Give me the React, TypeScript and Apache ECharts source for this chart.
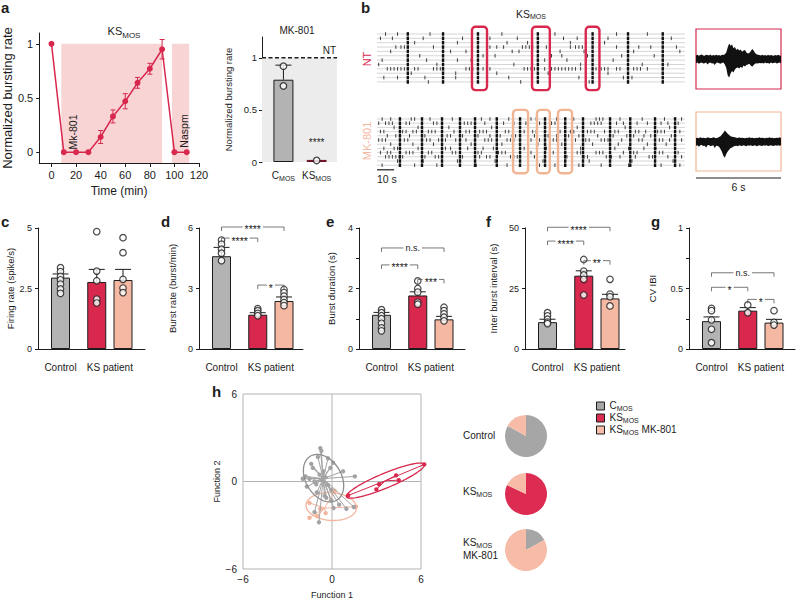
import React, { useEffect, useRef } from 'react';
import * as echarts from 'echarts';

const FONT = "'Liberation Sans', Arial, Helvetica, sans-serif";
const INK = '#1c1c1c';
const RED = '#d8284e';
const SALMON = '#f5b8a2';
const GREY = '#b3b3b3';
const PINK = '#f8d4d4';
const BOX_ORANGE = '#f2b594';

// ---------- a: time course (KS_MOS) ----------
const timeMin = [0, 10, 20, 30, 40, 50, 60, 70, 80, 90, 100, 110];
const normRate = [1, 0, 0, 0, 0.14, 0.33, 0.47, 0.64, 0.77, 0.95, 0, 0];
const normErr = [0, 0, 0, 0, 0.06, 0.06, 0.07, 0.05, 0.05, 0.09, 0, 0];
const drugWindows = [[8, 90], [98, 112]];
const timeTicks = [0, 20, 40, 60, 80, 100, 120];
const rateTicks = [0, 0.5, 1];

// ---------- a: MK-801 bars ----------
const mkMeans = [0.79, 0.02];
const mkErrs = [0.14, 0];
const mkDots = [[0.92, 0.73], [0.015]];
const mkSig = ['', '****'];
const mkSigY = [0, 0.19];

// ---------- b: rasters (s) ----------
const ntBursts = [18, 38.6, 59, 94, 126, 146.7, 167];
const ntSpikes = [
  [5, 12, 31, 73, 104, 140, 158],
  [2, 9, 27, 50, 66, 82, 109, 117, 135, 172],
  [22, 47, 76, 88, 113, 133],
  [11, 14, 16, 33, 66, 70, 74, 85, 87, 89, 91, 99, 113, 116, 118, 120, 140, 153, 160, 175],
  [8, 43, 52, 79, 83, 107, 121, 150, 177],
  [25, 62, 69, 102, 108, 123, 143, 162],
  [3, 29, 47, 55, 98, 111, 138],
  [1, 35, 64, 80, 119, 155, 170],
  [6, 8, 10, 12, 14, 16, 22, 24, 33, 35, 37, 52, 54, 56, 62, 64, 66, 86, 88, 90, 92, 98, 102, 104, 106, 108, 110, 112, 114, 116, 119, 128, 131, 133, 135, 140, 142, 150, 152, 154, 158],
  [20, 46, 70, 100, 135],
  [4, 12, 28, 46, 77, 118, 144, 149],
  [30, 84, 124],
];
const ntBoxes = [[55.5, 64.3], [90.6, 101], [122, 130]];
const mkBursts = [13.4, 26.3, 38, 48.5, 57.3, 70, 83.6, 98.2, 110, 120.4, 136.2, 148, 162.5, 174.2];
const mkSpikes = [
  [3, 8, 20, 22, 31, 44, 61, 66, 77, 90, 93, 105, 115, 128, 130, 132, 142, 155, 168, 178],
  [1, 5, 7, 9, 17, 19, 33, 35, 51, 53, 55, 63, 74, 80, 87, 95, 102, 104, 106, 114, 125, 127, 129, 131, 140, 144, 152, 158, 166, 170, 176],
  [10, 24, 42, 67, 88, 117, 145, 171],
  [2, 4, 15, 17, 21, 23, 30, 32, 34, 45, 52, 54, 60, 62, 64, 75, 77, 86, 91, 93, 101, 107, 113, 115, 123, 125, 127, 133, 139, 141, 151, 153, 157, 164, 166, 168, 177],
  [6, 11, 19, 28, 41, 43, 50, 59, 66, 72, 79, 81, 92, 100, 105, 112, 118, 129, 138, 146, 150, 156, 160, 172],
  [1, 3, 5, 16, 18, 29, 31, 36, 40, 46, 52, 63, 65, 67, 76, 78, 80, 88, 90, 95, 103, 105, 116, 122, 124, 131, 133, 135, 143, 153, 155, 165, 167, 171, 178],
  [8, 21, 33, 55, 73, 94, 108, 126, 141, 158, 169],
  [4, 10, 12, 24, 40, 43, 53, 62, 68, 86, 99, 106, 114, 119, 139, 147, 156, 163],
  [2, 6, 8, 17, 19, 21, 30, 32, 44, 46, 59, 61, 71, 73, 75, 88, 90, 101, 103, 117, 119, 128, 130, 132, 144, 150, 152, 165, 167, 176],
  [5, 7, 9, 11, 13, 15, 28, 34, 36, 50, 60, 64, 66, 78, 80, 82, 92, 111, 121, 123, 134, 137, 142, 151, 159, 161, 170, 178],
  [12, 27, 47, 69, 97, 124, 149, 173],
  [3, 22, 35, 58, 76, 95, 104, 118, 131, 147, 166, 177],
];
const mkBoxes = [[79.5, 88.3], [93.5, 101], [105.8, 114]];
const rasterScale = 10; // s
const traceScale = 6; // s

// ---------- b: example traces (envelope, 0-6 s) ----------
const ntUpper = [0.12, 0.14, 0.11, 0.13, 0.15, 0.12, 0.11, 0.14, 0.13, 0.12, 0.15, 0.11, 0.13, 0.12, 0.14, 0.12, 0.13, 0.11, 0.14, 0.13, 0.16,
  0.22, 0.38, 0.52, 0.44, 0.48, 0.36, 0.4, 0.3, 0.34, 0.28,
  0.32, 0.24, 0.28, 0.3, 0.22, 0.18, 0.2,
  0.26, 0.33, 0.28, 0.2, 0.16, 0.14, 0.13,
  0.12, 0.14, 0.12, 0.13, 0.11, 0.14, 0.12, 0.13, 0.12, 0.11, 0.13, 0.12, 0.14, 0.12, 0.11];
const ntLower = [0.14, 0.12, 0.16, 0.13, 0.12, 0.15, 0.14, 0.12, 0.18, 0.13, 0.12, 0.15, 0.14, 0.2, 0.13, 0.12, 0.14, 0.16, 0.13, 0.12, 0.18,
  0.3, 0.55, 0.62, 0.48, 0.4, 0.45, 0.35, 0.3, 0.28, 0.32,
  0.26, 0.3, 0.22, 0.25, 0.2, 0.18, 0.16,
  0.22, 0.26, 0.2, 0.16, 0.14, 0.15, 0.13,
  0.14, 0.13, 0.15, 0.12, 0.14, 0.13, 0.16, 0.12, 0.14, 0.13, 0.12, 0.15, 0.13, 0.12, 0.14];
const mkUpper = [0.12, 0.13, 0.11, 0.14, 0.12, 0.13, 0.12, 0.11, 0.14, 0.13, 0.12, 0.12, 0.14, 0.13, 0.11, 0.13, 0.15,
  0.18, 0.24, 0.3, 0.37, 0.32, 0.26, 0.22, 0.18, 0.16, 0.15,
  0.14, 0.13, 0.12, 0.14, 0.12, 0.13, 0.12, 0.11, 0.13, 0.12, 0.14, 0.12, 0.13, 0.12, 0.11, 0.13, 0.12, 0.14, 0.12, 0.13, 0.12, 0.11, 0.13, 0.12, 0.14, 0.12, 0.13, 0.11, 0.12, 0.13, 0.12, 0.14, 0.12];
const mkLower = [0.14, 0.13, 0.18, 0.13, 0.12, 0.15, 0.14, 0.2, 0.13, 0.12, 0.16, 0.14, 0.13, 0.22, 0.14, 0.15, 0.18,
  0.25, 0.35, 0.48, 0.55, 0.42, 0.34, 0.28, 0.22, 0.2, 0.17,
  0.15, 0.14, 0.16, 0.13, 0.14, 0.15, 0.13, 0.14, 0.16, 0.13, 0.14, 0.13, 0.15, 0.14, 0.13, 0.16, 0.14, 0.13, 0.14, 0.15, 0.13, 0.14, 0.13, 0.15, 0.14, 0.13, 0.14, 0.15, 0.13, 0.14, 0.13, 0.14, 0.13];

// ---------- c–g: Control, KS_MOS, KS_MOS MK-801 ----------
const fireMeans = [2.95, 2.77, 2.85];
const fireErrs = [0.15, 0.52, 0.44];
const fireDots = [[3.36, 3.2, 3.0, 2.86, 2.68, 2.48, 2.3], [4.85, 3.22, 2.82, 2.06, 1.9], [4.6, 3.98, 2.88, 2.52, 2.33]];
const fireSig: any[] = [];

const brMeans = [4.6, 1.7, 2.38];
const brErrs = [0.44, 0.1, 0.2];
const brDots = [[5.4, 5.2, 4.95, 4.75, 4.38], [2.0, 1.9, 1.77, 1.65], [2.95, 2.8, 2.62, 2.45, 2.3, 2.15]];
const brSig = [[0, 2, 6.05, '****'], [0, 1, 5.5, '****'], [1, 2, 3.17, '*']];

const durMeans = [1.13, 1.77, 0.98];
const durErrs = [0.08, 0.12, 0.1];
const durDots = [[1.3, 1.2, 1.1, 1.0, 0.85, 0.7, 0.6], [2.25, 2.0, 1.88, 1.55, 1.48], [1.38, 1.27, 1.16, 1.05, 0.93]];
const durSig = [[0, 2, 3.34, 'n.s.'], [0, 1, 2.78, '****'], [1, 2, 2.3, '***']];

const ibiMeans = [11.1, 30.3, 20.9];
const ibiErrs = [1.2, 2.0, 1.7];
const ibiDots = [[15, 13.7, 12.3, 11.1, 10.5], [37, 32.2, 30.6, 28.8, 22.3], [28.8, 22.7, 21.6, 17.8]];
const ibiSig = [[0, 2, 50.3, '****'], [0, 1, 44.6, '****'], [1, 2, 36.5, '**']];

const cvMeans = [0.23, 0.317, 0.218];
const cvErrs = [0.035, 0.025, 0.027];
const cvDots = [[0.336, 0.317, 0.24, 0.163, 0.052], [0.364, 0.3], [0.317, 0.22, 0.198]];
const cvSig = [[0, 2, 0.63, 'n.s.'], [0, 1, 0.51, '*'], [1, 2, 0.41, '*']];

// ---------- h: discriminant analysis ----------
const hCtrl = [[-0.79, 2.29], [-0.72, 2.1], [-0.95, 1.68], [-0.27, 1.59], [0.07, 1.29], [-0.11, 0.93], [0.75, 0.7], [1.54, 0.35],
  [-1.79, 0.35], [-1.97, 0.19], [-1.52, 0.19], [-1.18, 0.0], [-1.06, -0.19], [-1.7, -0.35], [-1.02, -0.75], [-0.5, -0.98],
  [-0.05, -1.29], [-0.38, -1.12], [0.48, -1.59], [0.97, -1.87], [1.47, -1.75], [-0.88, -2.8], [-1.18, -2.1], [0.11, -1.82],
  [-1.29, 0.93], [-1.4, 1.21], [-0.57, 0.7], [-0.84, 0.47], [-0.43, 0.28], [-0.72, 0.12], [-0.27, -0.23], [-0.05, -0.58]];
const hKS = [[6.22, 1.17], [4.32, 0.42], [4.5, 0.09], [3.17, -0.19], [2.99, -0.54], [1.09, -0.96]];
const hMK = [[-1.52, -1.47], [-1.52, -2.5], [-1.0, -2.38], [-0.43, -2.17], [0.18, -0.65], [1.61, -1.73], [-0.79, -1.87]];
const hCtrlCentroid = [-0.6, 0.2];
const hKSCentroid = [3.6, 0.05];
const hMKCentroid = [-0.5, -1.82];
// [cx, cy, semi-major, semi-minor, angle(deg)]
const hCtrlEllipse = [-0.57, 0.23, 1.75, 1.2, -60];
const hKSEllipse = [3.6, 0.06, 2.85, 0.5, 23];
const hMKEllipse = [-0.05, -1.72, 1.7, 0.95, -4];
const hTicks = [-6, 0, 6];

// classification pies: [C_MOS, KS_MOS, KS_MOS MK-801]
const pieNames = ['CMOS', 'KSMOS', 'KSMOS MK-801'];
const pieCtrl = [83, 0, 17];
const pieKS = [0, 82, 18];
const pieMK = [17, 0, 83];

// ---------- layout helpers ----------
const mkX = [1, 2.55];
const barX = [0.9, 2.35, 3.4];
const barColors = [GREY, RED, SALMON];
const pieColors = ['#a6a6a6', '#dc2c52', '#f6bca7'];

const labelRich = (size: number) => ({
  b: { fontSize: size, lineHeight: size + 1, verticalAlign: 'top', color: INK, fontFamily: FONT },
  s: { fontSize: Math.round(size * 0.7), verticalAlign: 'bottom', padding: [Math.round(size * 0.5), 0, 0, 0], color: INK, fontFamily: FONT },
});
const gRich = (size: number, color = INK) => ({
  b: { fontSize: size, lineHeight: size + 1, verticalAlign: 'top', fill: color, fontFamily: FONT },
  s: { fontSize: Math.round(size * 0.7), verticalAlign: 'bottom', padding: [Math.round(size * 0.5), 0, 0, 0], fill: color, fontFamily: FONT },
});

function gtext(text: string, x: number, y: number, o: any = {}) {
  return {
    type: 'text', x, y, z: 100, rotation: o.rotation || 0, silent: true,
    style: {
      text, fill: o.color || INK, fontSize: o.size || 10, fontFamily: FONT, fontWeight: o.weight || 'normal',
      align: o.align || 'center', verticalAlign: o.va || 'middle', rich: o.rich, lineHeight: o.lineHeight,
    },
  };
}

function errRenderer(color: string, both: boolean, capHalf: number) {
  return (params: any, api: any) => {
    const x = api.value(0), m = api.value(1), e = api.value(2);
    const pT = api.coord([x, m + e]);
    const pB = api.coord([x, both ? m - e : m]);
    const st = { stroke: color, lineWidth: 1 };
    const ch: any[] = [
      { type: 'line', shape: { x1: pT[0], y1: pT[1], x2: pB[0], y2: pB[1] }, style: st },
      { type: 'line', shape: { x1: pT[0] - capHalf, y1: pT[1], x2: pT[0] + capHalf, y2: pT[1] }, style: st },
    ];
    if (both) ch.push({ type: 'line', shape: { x1: pB[0] - capHalf, y1: pB[1], x2: pB[0] + capHalf, y2: pB[1] }, style: st });
    return { type: 'group', children: ch };
  };
}

function buildOption() {
  const grid: any[] = [], xAxis: any[] = [], yAxis: any[] = [], series: any[] = [];
  const addGrid = (g: any, x: any, y: any) => {
    grid.push({ containLabel: false, ...g });
    const i = grid.length - 1;
    xAxis.push({ ...x, gridIndex: i });
    yAxis.push({ ...y, gridIndex: i });
    return i;
  };
  const axLine = { show: true, onZero: false, lineStyle: { color: INK, width: 1 } };
  const hidden = (min: number, max: number, inverse = false) => ({ type: 'value', min, max, inverse, show: false, splitLine: { show: false } });
  const on = (i: number) => ({ xAxisIndex: i, yAxisIndex: i, itemStyle: { color: INK } });

  // ===== a: time course =====
  const gA = addGrid({ left: 38, top: 33, width: 161, height: 130 },
    {
      type: 'value', min: -10, max: 120, axisLine: axLine,
      axisTick: { show: true, length: 4, customValues: timeTicks, lineStyle: { color: INK } },
      axisLabel: { customValues: timeTicks, fontSize: 11, color: INK, margin: 6, fontFamily: FONT },
      splitLine: { show: false }, name: 'Time (min)', nameLocation: 'middle', nameGap: 22,
      nameTextStyle: { fontSize: 12, color: INK, fontFamily: FONT },
    },
    {
      type: 'value', min: -0.1, max: 1.1, axisLine: axLine,
      axisTick: { show: true, length: 3, customValues: rateTicks, lineStyle: { color: INK } },
      axisLabel: { customValues: rateTicks, fontSize: 11, color: INK, margin: 6, fontFamily: FONT },
      splitLine: { show: false }, name: 'Normalized bursting rate', nameLocation: 'middle', nameGap: 24,
      nameTextStyle: { fontSize: 13, color: INK, fontFamily: FONT },
    });
  series.push({
    type: 'custom', ...on(gA), z: 1, silent: true, data: drugWindows,
    renderItem: (p: any, api: any) => {
      const a = api.coord([api.value(0), 1]);
      const b = api.coord([api.value(1), -0.1]);
      return { type: 'rect', shape: { x: a[0], y: a[1], width: b[0] - a[0], height: b[1] - a[1] }, style: { fill: PINK } };
    },
  });
  series.push({
    type: 'line', xAxisIndex: gA, yAxisIndex: gA, z: 3, data: timeMin.map((t, i) => [t, normRate[i]]),
    symbol: 'circle', symbolSize: 6, itemStyle: { color: RED }, lineStyle: { color: RED, width: 1.5 }, silent: true,
  });
  series.push({
    type: 'custom', ...on(gA), z: 4, silent: true,
    data: timeMin.map((t, i) => [t, normRate[i], normErr[i]]).filter((d) => d[2] > 0),
    renderItem: errRenderer(RED, true, 2.5),
  });

  // ===== a: MK-801 bars =====
  const gM = addGrid({ left: 262, top: 37, width: 75, height: 125 },
    {
      type: 'value', min: 0, max: 3.5, axisLine: { show: false }, axisTick: { show: false }, splitLine: { show: false },
      axisLabel: {
        customValues: mkX, margin: 8, rich: labelRich(10),
        formatter: (v: number) => (v < 2 ? '{b|C}{s|MOS}' : '{b|KS}{s|MOS}'),
      },
    },
    {
      type: 'value', min: 0, max: 1.2, axisLine: axLine,
      axisTick: { show: true, length: 3, customValues: rateTicks, lineStyle: { color: INK } },
      axisLabel: { customValues: rateTicks, fontSize: 9.5, color: INK, margin: 5, fontFamily: FONT },
      splitLine: { show: false }, name: 'Normalized bursting rate', nameLocation: 'middle', nameGap: 29,
      nameTextStyle: { fontSize: 9.5, color: INK, fontFamily: FONT },
    });
  series.push({
    type: 'custom', ...on(gM), z: 1, silent: true, data: [[0, 3.5, 1]],
    renderItem: (p: any, api: any) => {
      const a = api.coord([api.value(0), api.value(2)]);
      const b = api.coord([api.value(1), 0]);
      return {
        type: 'group', children: [
          { type: 'rect', shape: { x: a[0], y: a[1], width: b[0] - a[0], height: b[1] - a[1] }, style: { fill: '#ececec' } },
          { type: 'line', shape: { x1: a[0], y1: a[1], x2: b[0], y2: a[1] }, style: { stroke: INK, lineWidth: 1.5, lineDash: [4, 2.5] } },
          { type: 'text', x: b[0] - 1, y: a[1] - 2, style: { text: 'NT', fill: INK, fontSize: 10, fontFamily: FONT, align: 'right', verticalAlign: 'bottom' } },
        ],
      };
    },
  });
  series.push({
    type: 'bar', xAxisIndex: gM, yAxisIndex: gM, z: 2, barWidth: 20, silent: true,
    data: mkX.map((x, i) => ({ value: [x, mkMeans[i]], itemStyle: { color: i ? RED : GREY, borderColor: i ? '#6b1024' : INK, borderWidth: 1 } })),
  });
  series.push({
    type: 'custom', ...on(gM), z: 3, silent: true,
    data: mkX.map((x, i) => [x, mkMeans[i], mkErrs[i]]).filter((d) => d[2] > 0),
    renderItem: errRenderer(INK, false, 8),
  });
  series.push({
    type: 'scatter', xAxisIndex: gM, yAxisIndex: gM, z: 4, silent: true, symbolSize: 6.5,
    itemStyle: { color: '#fff', borderColor: INK, borderWidth: 1.3 },
    data: mkDots.flatMap((arr, i) => arr.map((v) => [mkX[i], v])),
  });
  series.push({
    type: 'custom', ...on(gM), z: 5, silent: true,
    data: mkX.map((x, i) => [x, mkSigY[i]]).filter((d, i) => mkSig[i]),
    renderItem: (p: any, api: any) => {
      const c = api.coord([api.value(0), api.value(1)]);
      return { type: 'text', x: c[0], y: c[1], style: { text: '****', fill: INK, fontSize: 10, fontFamily: FONT, align: 'center', verticalAlign: 'middle' } };
    },
  });

  // ===== b: rasters =====
  const rasterGrid = (top: number, height: number, spikes: number[][], bursts: number[], boxes: number[][], boxColor: string, pads: number[], scaleBar: boolean) => {
    const gi = addGrid({ left: 377, top, width: 308, height }, hidden(0, 180), hidden(-0.5, 11.5, true));
    series.push({
      type: 'custom', ...on(gi), z: 1, silent: true, data: spikes.map((_, r) => [0, r]),
      renderItem: (p: any, api: any) => {
        const a = api.coord([0, api.value(1)]);
        const b = api.coord([180, api.value(1)]);
        return { type: 'line', shape: { x1: a[0], y1: a[1], x2: b[0], y2: b[1] }, style: { stroke: '#b8b8b8', lineWidth: 0.6 } };
      },
    });
    const d: number[][] = [];
    spikes.forEach((row, r) => row.forEach((t) => d.push([t, r, 0])));
    spikes.forEach((_, r) => bursts.forEach((t) => d.push([t, r, 1])));
    series.push({
      type: 'custom', ...on(gi), z: 2, silent: true, data: d,
      renderItem: (p: any, api: any) => {
        const c = api.coord([api.value(0), api.value(1)]);
        const h = 3.6;
        if (api.value(2) === 1) {
          return { type: 'rect', shape: { x: c[0] - 1.2, y: c[1] - h / 2, width: 2.4, height: h }, style: { fill: '#111' } };
        }
        return { type: 'line', shape: { x1: c[0], y1: c[1] - h / 2, x2: c[0], y2: c[1] + h / 2 }, style: { stroke: '#111', lineWidth: 0.8 } };
      },
    });
    series.push({
      type: 'custom', ...on(gi), z: 3, silent: true, data: boxes,
      renderItem: (p: any, api: any) => {
        const cs = p.coordSys;
        const a = api.coord([api.value(0), 0]);
        const b = api.coord([api.value(1), 0]);
        return {
          type: 'rect', shape: { x: a[0], y: cs.y - pads[0], width: b[0] - a[0], height: cs.height + pads[0] + pads[1], r: 3.5 },
          style: { fill: 'none', stroke: boxColor, lineWidth: 2.4 },
        };
      },
    });
    if (scaleBar) {
      series.push({
        type: 'custom', ...on(gi), z: 3, silent: true, data: [[0, rasterScale]],
        renderItem: (p: any, api: any) => {
          const cs = p.coordSys;
          const a = api.coord([api.value(0), 0]);
          const b = api.coord([api.value(1), 0]);
          const y = cs.y + cs.height + 2.5;
          return {
            type: 'group', children: [
              { type: 'line', shape: { x1: a[0], y1: y, x2: b[0], y2: y }, style: { stroke: INK, lineWidth: 1.2 } },
              { type: 'text', x: a[0], y: y + 4, style: { text: rasterScale + ' s', fill: INK, fontSize: 10.5, fontFamily: FONT, align: 'left', verticalAlign: 'top' } },
            ],
          };
        },
      });
    }
  };
  rasterGrid(31.8, 52.3, ntSpikes, ntBursts, ntBoxes, RED, [5, 6], false);
  rasterGrid(116.9, 50.4, mkSpikes, mkBursts, mkBoxes, BOX_ORANGE, [7, 6], true);

  // ===== b: traces =====
  const traceGrid = (top: number, height: number, upper: number[], lower: number[], border: string, scaleBar: boolean) => {
    const gi = addGrid({ left: 696, top, width: 85, height, show: true, borderColor: border, borderWidth: 1.2, backgroundColor: 'transparent' },
      hidden(0, traceScale), hidden(-1, 1));
    series.push({
      type: 'custom', ...on(gi), z: 2, silent: true, data: [[0, 0]],
      renderItem: (p: any, api: any) => {
        const n = upper.length;
        const pts: number[][] = [];
        for (let i = 0; i < n; i++) pts.push(api.coord([(i * traceScale) / (n - 1), upper[i]]));
        for (let i = n - 1; i >= 0; i--) pts.push(api.coord([(i * traceScale) / (n - 1), -lower[i]]));
        return { type: 'polygon', shape: { points: pts }, style: { fill: '#111' } };
      },
    });
    if (scaleBar) {
      series.push({
        type: 'custom', ...on(gi), z: 3, silent: true, data: [[0, traceScale]],
        renderItem: (p: any, api: any) => {
          const cs = p.coordSys;
          const a = api.coord([api.value(0), 0]);
          const b = api.coord([api.value(1), 0]);
          const y = cs.y + cs.height + 7;
          return {
            type: 'group', children: [
              { type: 'line', shape: { x1: a[0], y1: y, x2: b[0], y2: y }, style: { stroke: INK, lineWidth: 1.2 } },
              { type: 'text', x: (a[0] + b[0]) / 2, y: y + 3, style: { text: traceScale + ' s', fill: INK, fontSize: 10.5, fontFamily: FONT, align: 'center', verticalAlign: 'top' } },
            ],
          };
        },
      });
    }
  };
  traceGrid(29, 60, ntUpper, ntLower, RED, false);
  traceGrid(112, 59, mkUpper, mkLower, BOX_ORANGE, true);

  // ===== c–g: bar panels =====
  const barPanel = (left: number, width: number, max: number, step: number, labels: number[], name: string, nameGap: number,
    means: number[], errs: number[], dots: number[][], sig: any[]) => {
    const gi = addGrid({ left, top: 228, width, height: 121 },
      {
        type: 'value', min: 0, max: width / 25, axisLine: axLine, axisTick: { show: false }, splitLine: { show: false },
        axisLabel: {
          customValues: [barX[0], (barX[1] + barX[2]) / 2], fontSize: 10, color: INK, margin: 13, fontFamily: FONT,
          formatter: (v: number) => (v < 1.5 ? 'Control' : 'KS patient'),
        },
      },
      {
        type: 'value', min: 0, max, interval: step, axisLine: axLine,
        axisTick: { show: true, length: 3, lineStyle: { color: INK } },
        axisLabel: { customValues: labels, fontSize: 9, color: INK, margin: 6, fontFamily: FONT },
        splitLine: { show: false }, name, nameLocation: 'middle', nameGap,
        nameTextStyle: { fontSize: 9.5, color: INK, fontFamily: FONT },
      });
    series.push({
      type: 'bar', xAxisIndex: gi, yAxisIndex: gi, z: 2, barWidth: 19, silent: true,
      data: barX.map((x, i) => ({ value: [x, means[i]], itemStyle: { color: barColors[i], borderColor: INK, borderWidth: 1 } })),
    });
    series.push({
      type: 'custom', ...on(gi), z: 3, silent: true,
      data: barX.map((x, i) => [x, means[i], errs[i]]),
      renderItem: errRenderer(INK, false, 8),
    });
    series.push({
      type: 'scatter', xAxisIndex: gi, yAxisIndex: gi, z: 4, silent: true, symbolSize: 6.5,
      itemStyle: { color: '#fff', borderColor: INK, borderWidth: 1.2 },
      data: dots.flatMap((arr, i) => arr.map((v) => [barX[i], v])),
    });
    if (sig.length) {
      series.push({
        type: 'custom', ...on(gi), z: 5, silent: true,
        data: sig.map((s) => [barX[s[0]], barX[s[1]], s[2]]),
        renderItem: (p: any, api: any) => {
          const s = sig[p.dataIndex];
          const a = api.coord([api.value(0), api.value(2)]);
          const b = api.coord([api.value(1), api.value(2)]);
          const drop = 4;
          const isStar = String(s[3]).indexOf('*') >= 0;
          return {
            type: 'group', children: [
              { type: 'polyline', shape: { points: [[a[0], a[1] + drop], [a[0], a[1]], [b[0], b[1]], [b[0], b[1] + drop]] }, style: { stroke: '#555', lineWidth: 0.8, fill: null } },
              {
                type: 'text', x: (a[0] + b[0]) / 2, y: a[1] + (isStar ? 2.5 : 0), z2: 10,
                style: { text: s[3], fill: INK, fontSize: isStar ? 10.5 : 9, fontFamily: FONT, align: 'center', verticalAlign: 'middle', backgroundColor: '#fff', padding: [0, 2] },
              },
            ],
          };
        },
      });
    }
  };
  barPanel(38, 107, 5, 2.5, [0, 2.5, 5], 'Firing rate (spike/s)', 23, fireMeans, fireErrs, fireDots, fireSig);
  barPanel(199, 104, 6, 3, [0, 3, 6], 'Burst rate (burst/min)', 22, brMeans, brErrs, brDots, brSig);
  barPanel(359, 106, 4, 1, [0, 2, 4], 'Burst duration (s)', 23, durMeans, durErrs, durDots, durSig);
  barPanel(525, 100, 50, 25, [0, 25, 50], 'Inter burst interval (s)', 27, ibiMeans, ibiErrs, ibiDots, ibiSig);
  barPanel(689, 106, 1, 0.25, [0, 0.5, 1], 'CV IBI', 32, cvMeans, cvErrs, cvDots, cvSig);

  // ===== h: scatter =====
  const minus = (v: number) => (v < 0 ? '\u2212' + Math.abs(v) : String(v));
  const gH = addGrid({ left: 243, top: 394, width: 178, height: 178, show: true, borderColor: '#b3b3b3', borderWidth: 1, backgroundColor: 'transparent' },
    {
      type: 'value', min: -6, max: 6, interval: 6, axisLine: { show: false }, axisTick: { show: false }, splitLine: { show: false },
      axisLabel: { customValues: hTicks, formatter: minus, fontSize: 10, color: INK, margin: 5, fontFamily: FONT },
      name: 'Function 1', nameLocation: 'middle', nameGap: 21, nameTextStyle: { fontSize: 9, color: INK, fontFamily: FONT },
    },
    {
      type: 'value', min: -6, max: 6, interval: 6, axisLine: { show: false }, axisTick: { show: false }, splitLine: { show: false },
      axisLabel: { customValues: hTicks, formatter: minus, fontSize: 10, color: INK, margin: 6, fontFamily: FONT },
      name: 'Function 2', nameLocation: 'middle', nameGap: 22, nameTextStyle: { fontSize: 9, color: INK, fontFamily: FONT },
    });
  series.push({
    type: 'custom', ...on(gH), z: 1, silent: true, data: [[0, 0]],
    renderItem: (p: any, api: any) => {
      const l = api.coord([-6, 0]), r = api.coord([6, 0]), t = api.coord([0, 6]), b = api.coord([0, -6]);
      const st = { stroke: '#b3b3b3', lineWidth: 1 };
      return {
        type: 'group', children: [
          { type: 'line', shape: { x1: l[0], y1: l[1], x2: r[0], y2: r[1] }, style: st },
          { type: 'line', shape: { x1: t[0], y1: t[1], x2: b[0], y2: b[1] }, style: st },
        ],
      };
    },
  });
  const starSeries = (pts: number[][], cen: number[], color: string, z: number) => ({
    type: 'custom', xAxisIndex: gH, yAxisIndex: gH, itemStyle: { color }, z, silent: true, data: pts,
    renderItem: (p: any, api: any) => {
      const c = api.coord([api.value(0), api.value(1)]);
      const o = api.coord(cen);
      return {
        type: 'group', children: [
          { type: 'line', shape: { x1: o[0], y1: o[1], x2: c[0], y2: c[1] }, style: { stroke: color, lineWidth: 1 } },
          { type: 'circle', shape: { cx: c[0], cy: c[1], r: 2.2 }, style: { fill: color } },
        ],
      };
    },
  });
  const ellipseSeries = (e: number[], color: string, z: number) => ({
    type: 'custom', xAxisIndex: gH, yAxisIndex: gH, itemStyle: { color }, z, silent: true, data: [[e[0], e[1]]],
    renderItem: (p: any, api: any) => {
      const [cx, cy, a, b, deg] = e;
      const phi = (deg * Math.PI) / 180;
      const pts: number[][] = [];
      for (let k = 0; k <= 96; k++) {
        const t = (k / 96) * 2 * Math.PI;
        pts.push(api.coord([
          cx + a * Math.cos(t) * Math.cos(phi) - b * Math.sin(t) * Math.sin(phi),
          cy + a * Math.cos(t) * Math.sin(phi) + b * Math.sin(t) * Math.cos(phi),
        ]));
      }
      return { type: 'polyline', shape: { points: pts }, style: { stroke: color, lineWidth: 1.3, fill: null } };
    },
  });
  series.push(starSeries(hMK, hMKCentroid, '#f4b59e', 2));
  series.push(ellipseSeries(hMKEllipse, '#f4b59e', 2));
  series.push(starSeries(hCtrl, hCtrlCentroid, '#a3a3a3', 3));
  series.push(ellipseSeries(hCtrlEllipse, '#8e8e8e', 3));
  series.push(starSeries(hKS, hKSCentroid, RED, 4));
  series.push(ellipseSeries(hKSEllipse, RED, 4));

  // ===== h: pies =====
  const pie = (vals: number[], cy: number) => ({
    type: 'pie', center: [526, cy], radius: 21, startAngle: 90, clockwise: true, silent: true,
    label: { show: false }, labelLine: { show: false },
    data: vals.map((v, i) => ({ name: pieNames[i], value: v, itemStyle: { color: pieColors[i] } })).filter((d) => d.value > 0),
  });
  series.push(pie(pieCtrl, 436));
  series.push(pie(pieKS, 494));
  series.push(pie(pieMK, 550));

  const legendFmt: any = { CMOS: '{b|C}{s|MOS}', KSMOS: '{b|KS}{s|MOS}', 'KSMOS MK-801': '{b|KS}{s|MOS}{b| MK-801}' };

  const graphic: any[] = [
    gtext('a', 1, 0, { size: 15, weight: 'bold', align: 'left', va: 'top' }),
    gtext('b', 361, 0, { size: 15, weight: 'bold', align: 'left', va: 'top' }),
    gtext('c', 1, 214, { size: 15, weight: 'bold', align: 'left', va: 'top' }),
    gtext('d', 161, 214, { size: 15, weight: 'bold', align: 'left', va: 'top' }),
    gtext('e', 326, 214, { size: 15, weight: 'bold', align: 'left', va: 'top' }),
    gtext('f', 486, 214, { size: 15, weight: 'bold', align: 'left', va: 'top' }),
    gtext('g', 651, 214, { size: 15, weight: 'bold', align: 'left', va: 'top' }),
    gtext('h', 212, 384, { size: 15, weight: 'bold', align: 'left', va: 'top' }),
    gtext('{b|KS}{s|MOS}', 124, 32, { rich: gRich(11) }),
    gtext('MK-801', 297, 30, { size: 10 }),
    gtext('Mk-801', 73, 132, { size: 10.5, rotation: Math.PI / 2 }),
    gtext('Naspm', 184, 131, { size: 10.5, rotation: Math.PI / 2 }),
    gtext('{b|KS}{s|MOS}', 531, 14, { rich: gRich(10.5) }),
    gtext('NT', 367, 59, { size: 11, rotation: Math.PI / 2, color: RED }),
    gtext('MK-801', 367, 141, { size: 11, rotation: Math.PI / 2, color: SALMON }),
    gtext('Control', 463, 435, { size: 10, align: 'left' }),
    gtext('{b|KS}{s|MOS}', 463, 492, { rich: gRich(10), align: 'left' }),
    gtext('{b|KS}{s|MOS}', 463, 543, { rich: gRich(10), align: 'left' }),
    gtext('MK-801', 463, 555, { size: 10, align: 'left' }),
  ];

  return {
    animation: false,
    backgroundColor: '#fff',
    textStyle: { fontFamily: FONT },
    grid, xAxis, yAxis, series, graphic,
    legend: {
      data: pieNames, left: 591, top: 395, orient: 'vertical', icon: 'rect', itemWidth: 8, itemHeight: 8, itemGap: 0,
      selectedMode: false,
      itemStyle: { borderColor: INK, borderWidth: 1 },
      formatter: (n: string) => legendFmt[n],
      textStyle: { rich: labelRich(10), padding: [0, 0, 0, 0] },
    },
  };
}

export default function App() {
  const ref = useRef<HTMLDivElement>(null);
  useEffect(() => {
    const chart = echarts.init(ref.current as HTMLDivElement, null, { renderer: 'svg' });
    chart.setOption(buildOption() as any);
    return () => chart.dispose();
  }, []);
  return <div ref={ref} style={{ position: 'absolute', left: 0, top: 0, width: 796, height: 600, background: '#fff' }} />;
}
